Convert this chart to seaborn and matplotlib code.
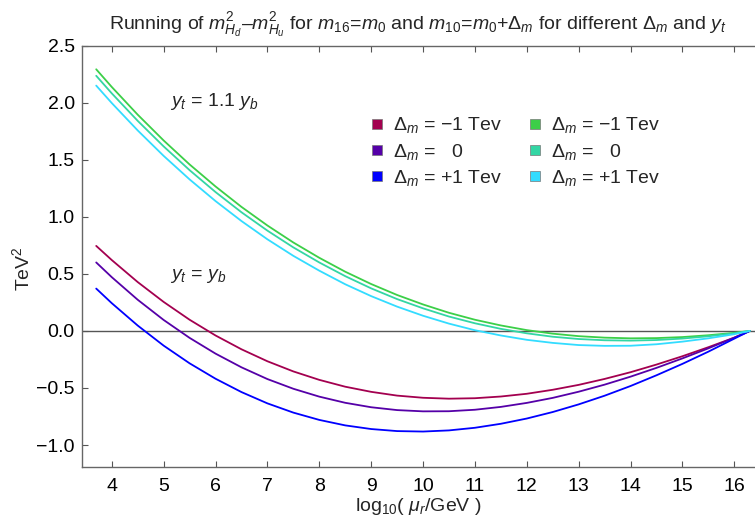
import numpy as np
import pandas as pd
import matplotlib
matplotlib.use("Agg")
import matplotlib.pyplot as plt
from matplotlib.lines import Line2D
import seaborn as sns

# ---- data ----
x = [3.7, 4.0, 4.5, 5.0, 5.5, 6.0, 6.5, 7.0, 7.5, 8.0, 8.5, 9.0, 9.5, 10.0,
     10.5, 11.0, 11.5, 12.0, 12.5, 13.0, 13.5, 14.0, 14.5, 15.0, 15.5, 16.0, 16.3]

yb_dm_minus = [0.745, 0.621, 0.428, 0.254, 0.098, -0.040, -0.161, -0.266, -0.355, -0.429,
               -0.489, -0.534, -0.567, -0.586, -0.594, -0.590, -0.575, -0.551, -0.516,
               -0.473, -0.421, -0.362, -0.295, -0.222, -0.143, -0.059, 0.0]
yb_dm_zero = [0.600, 0.471, 0.273, 0.096, -0.061, -0.199, -0.319, -0.422, -0.507, -0.576,
              -0.630, -0.669, -0.694, -0.705, -0.704, -0.691, -0.666, -0.631, -0.587,
              -0.533, -0.471, -0.401, -0.324, -0.241, -0.153, -0.059, 0.0]
yb_dm_plus = [0.371, 0.243, 0.047, -0.129, -0.284, -0.419, -0.536, -0.635, -0.716, -0.780,
              -0.828, -0.860, -0.878, -0.882, -0.872, -0.849, -0.814, -0.768, -0.711,
              -0.644, -0.568, -0.483, -0.389, -0.289, -0.182, -0.068, 0.0]
y11_dm_minus = [2.293, 2.138, 1.895, 1.669, 1.459, 1.266, 1.087, 0.924, 0.775, 0.641,
                0.519, 0.411, 0.315, 0.232, 0.159, 0.098, 0.048, 0.007, -0.024, -0.046,
                -0.059, -0.065, -0.063, -0.054, -0.038, -0.017, 0.0]
y11_dm_zero = [2.236, 2.082, 1.841, 1.617, 1.409, 1.217, 1.040, 0.879, 0.732, 0.600,
               0.480, 0.373, 0.279, 0.198, 0.126, 0.067, 0.018, -0.021, -0.051, -0.071,
               -0.082, -0.085, -0.080, -0.067, -0.047, -0.021, 0.0]
y11_dm_plus = [2.150, 1.997, 1.757, 1.534, 1.328, 1.138, 0.963, 0.803, 0.658, 0.528,
               0.409, 0.305, 0.213, 0.133, 0.064, 0.006, -0.040, -0.078, -0.105, -0.124,
               -0.131, -0.130, -0.117, -0.094, -0.065, -0.029, 0.0]

series_names = ["yb_m", "yb_0", "yb_p", "y11_m", "y11_0", "y11_p"]
series_values = [yb_dm_minus, yb_dm_zero, yb_dm_plus, y11_dm_minus, y11_dm_zero, y11_dm_plus]
legend_labels = [r"$\Delta_m$ = −1 Tev", r"$\Delta_m$ =   0", r"$\Delta_m$ = +1 Tev",
                 r"$\Delta_m$ = −1 Tev", r"$\Delta_m$ =   0", r"$\Delta_m$ = +1 Tev"]
colors = ["#a3004f", "#5500a8", "#0000ff", "#3ccf48", "#33d6a4", "#33dcff"]

x_ticks = [4, 5, 6, 7, 8, 9, 10, 11, 12, 13, 14, 15, 16]
y_ticks = [-1.0, -0.5, 0.0, 0.5, 1.0, 1.5, 2.0, 2.5]

df = pd.concat([pd.DataFrame({"x": x, "y": v, "s": n})
                for n, v in zip(series_names, series_values)], ignore_index=True)

sns.set_style("ticks")
plt.rcParams["font.family"] = ["Liberation Sans", "DejaVu Sans"]
plt.rcParams["mathtext.fontset"] = "custom"
plt.rcParams["mathtext.rm"] = "Liberation Sans"
plt.rcParams["mathtext.it"] = "Liberation Sans:italic"
plt.rcParams["mathtext.bf"] = "Liberation Sans:bold"

FS = 14

fig = plt.figure(figsize=(7.55, 5.19), dpi=100)
ax = fig.add_axes([0.1082, 0.1008, 0.8918, 0.8112])

ax.axhline(0, color="#555555", lw=1.0, zorder=1)
sns.lineplot(data=df, x="x", y="y", hue="s", hue_order=series_names,
             palette=dict(zip(series_names, colors)), lw=1.3, legend=False,
             ax=ax, zorder=3)

ax.set_xlim(3.42, 16.40)
ax.set_ylim(-1.19, 2.5)
ax.set_xticks(x_ticks)
ax.set_yticks(y_ticks)
ax.set_yticklabels([f"{v:.1f}".replace("-", "−") for v in y_ticks])
ax.tick_params(direction="in", length=4, width=0.8, colors="#555555",
               labelcolor="black", labelsize=FS, top=True, right=False, pad=5)
ax.tick_params(axis="x", pad=8)
for side in ["left", "bottom", "top"]:
    ax.spines[side].set_color("#666666")
    ax.spines[side].set_linewidth(1.0)
ax.spines["right"].set_visible(False)

ax.set_xlabel(r"log$_{10}$( $\mu_r$/GeV )", fontsize=FS, labelpad=1)
ax.set_ylabel(r"TeV$^2$", fontsize=FS)
ax.yaxis.set_label_coords(-0.072, 0.47)
ax.set_title(r"Running of $m^2_{H_d}$–$m^2_{H_u}$ for $m_{16}$=$m_0$ and $m_{10}$=$m_0$+$\Delta_m$ "
             r"for different $\Delta_m$ and $y_t$", fontsize=FS, pad=12)

ax.text(5.12, 2.01, r"$y_t$ = 1.1 $y_b$", fontsize=FS, va="center", ha="left")
ax.text(5.12, 0.48, r"$y_t$ = $y_b$", fontsize=FS, va="center", ha="left")

handles = [Line2D([0], [0], marker="s", ls="none", markersize=7.5,
                  markerfacecolor=c, markeredgecolor="#777777", markeredgewidth=0.5)
           for c in colors]
ax.legend(handles, legend_labels, ncol=2, frameon=False, fontsize=FS,
          loc="upper left", bbox_to_anchor=(0.413, 0.853), borderaxespad=0,
          handletextpad=0.3, columnspacing=1.2, labelspacing=0.33, handlelength=1.0)

fig.savefig("out.png", dpi=100)
